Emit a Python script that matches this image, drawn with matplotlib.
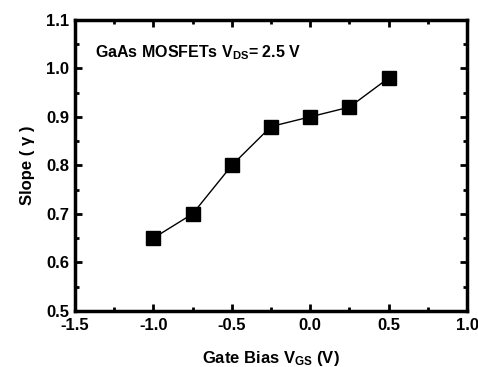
import numpy as np
import matplotlib.pyplot as plt
from matplotlib.ticker import MultipleLocator

gate_bias = np.array([-1.0, -0.75, -0.5, -0.25, 0.0, 0.25, 0.5])
slope = np.array([0.65, 0.70, 0.80, 0.88, 0.90, 0.92, 0.98])

plt.rcParams['font.family'] = ['Liberation Sans', 'DejaVu Sans']
plt.rcParams['font.weight'] = 'bold'
plt.rcParams['mathtext.fontset'] = 'custom'
plt.rcParams['mathtext.rm'] = 'Liberation Sans:bold'
plt.rcParams['mathtext.it'] = 'Liberation Sans:bold'
plt.rcParams['mathtext.bf'] = 'Liberation Sans:bold'

fig = plt.figure(figsize=(4.78, 3.67), dpi=100)
ax = fig.add_axes([0.157, 0.153, 0.82, 0.793])

ax.plot(gate_bias, slope, color="black", marker="s", markersize=10.5, linewidth=1)

ax.set_xlim(-1.5, 1.0)
ax.set_ylim(0.5, 1.1)
ax.xaxis.set_major_locator(MultipleLocator(0.5))
ax.xaxis.set_minor_locator(MultipleLocator(0.25))
ax.yaxis.set_major_locator(MultipleLocator(0.1))
ax.yaxis.set_minor_locator(MultipleLocator(0.05))
ax.xaxis.set_major_formatter(plt.FormatStrFormatter('%.1f'))
ax.yaxis.set_major_formatter(plt.FormatStrFormatter('%.1f'))

ax.tick_params(which='both', direction='in', top=True, right=True, width=2, labelsize=12)
ax.tick_params(which='major', length=5)
ax.tick_params(which='minor', length=3)
ax.tick_params(axis='x', pad=5)
ax.tick_params(axis='y', pad=4)
for s in ax.spines.values():
    s.set_linewidth(2.5)

ax.set_xlabel("Gate Bias V$_{GS}$ (V)", fontsize=12, fontweight='bold', labelpad=12)
ax.set_ylabel("Slope ( γ )", fontsize=12, fontweight='bold', labelpad=8)
ax.text(0.05, 0.87, "GaAs MOSFETs V$_{DS}$= 2.5 V", transform=ax.transAxes,
        fontsize=11.5, fontweight='bold')

plt.savefig("out.png", dpi=100)
